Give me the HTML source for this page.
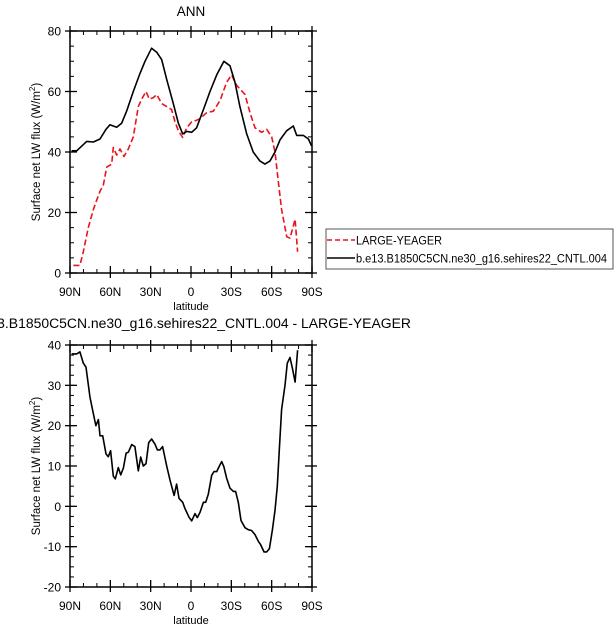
<!DOCTYPE html>
<html><head><meta charset="utf-8"><style>
body{margin:0;background:#fff;}
svg text{font-family:"Liberation Sans",Arial,sans-serif;fill:#000;}
</style></head><body>
<svg width="616" height="631" viewBox="0 0 616 631" xmlns="http://www.w3.org/2000/svg">
<g id="root"></g>
</svg>
<script>
const ctlLat=[88.8,85,77.6,72.6,67.7,63.2,60.3,55.3,51.6,47.9,42.9,37.9,34.2,29.3,25.5,21.8,18.1,13.2,9.4,6.2,3.2,-0.5,-4.2,-9.2,-14.1,-19.1,-24.5,-29,-32.7,-36.4,-41.4,-46.3,-51.3,-55,-58.7,-62.5,-66.2,-71.1,-76.1,-78.6,-83.5,-87.3,-89.7];
const ctlVal=[40.4,40.4,43.5,43.3,44.3,47.5,49,48.2,49.5,53.5,60,66,70,74.3,73,70.5,64,56,49.5,46,46.8,46.5,48,54,60,65.5,70,68.5,63,55,46,40,37,36,37,40,44,47,48.6,45.5,45.5,44.3,42];
const lyLat=[87.5,82.6,80.1,76.4,72.6,70.2,67.7,65.2,62.7,59,57.8,55.3,52.8,49.8,46.6,42.9,39.2,36.7,33.5,31,28,25.5,21.8,18.1,14.4,11.9,9.4,6.2,3.2,-0.5,-4.2,-6.7,-11.6,-16.6,-21.6,-26.5,-30.2,-34,-40.2,-43.9,-47.6,-52.6,-56.3,-60,-62.5,-65,-67.4,-71.2,-73.6,-77.4,-79.3];
const lyVal=[2.5,2.5,7,15,21,24,27,29,35,36,41.5,39,41,38.5,41,45,55,57.5,60,57.5,58,59,56,55,54,50,47,44.8,48,50,50.5,51,53,53.5,57,63,65.5,62,59,53,48,46.5,47.5,45,40,30,21,12,11.5,17.8,7];
const dLat=[88.8,85,82.6,80.1,78.1,75.1,71.4,70.7,68.9,67.7,65.7,63.2,61.5,59.8,57.8,56.3,54.1,52.3,50.3,48.3,46.6,44.1,41.7,39.2,37.4,35.5,33.5,31.5,29.3,26.8,25,23.1,21.1,18.1,15.6,12.6,10.7,8.9,6.2,4.5,1.5,-0.5,-3,-4.7,-6.7,-9.2,-10.9,-12.9,-15.4,-17.1,-19.1,-21.1,-22.8,-24.5,-26.5,-29,-31.5,-33.2,-35.2,-37.2,-40.2,-42.6,-45.1,-47.6,-50.1,-51.8,-54.3,-56.3,-58.3,-60.5,-62.5,-64.2,-65.7,-67.4,-69.9,-71.6,-73.6,-75.6,-77.4,-79.3];
const dVal=[37.8,37.8,38.3,35.5,34.5,27,21,20,21.5,17.5,17.5,13,12.3,13.8,7.5,6.8,9.6,7.8,9.5,13.2,13.4,15.3,14.8,8.8,12.2,10,10.6,15.8,16.7,15.4,14,14,14.8,10,6.5,2.7,5.5,2,1,-0.5,-2.7,-3.6,-1.8,-2.8,-1.5,1,1,3,7.7,8.6,8.6,10,11.1,9.8,7,4.5,3.7,3.7,1,-3.5,-5.3,-5.8,-6,-7,-8.7,-9.5,-11.3,-11.3,-10.5,-6,-1,5,14,24,30,35.5,36.9,34,30.8,38.7];
const xTicks=[90,60,30,0,-30,-60,-90];
const xTickLabels=["90N","60N","30N","0","30S","60S","90S"];
const topYTicks=[0,20,40,60,80];
const botYTicks=[-20,-10,0,10,20,30,40];

const NS="http://www.w3.org/2000/svg";
const root=document.getElementById('root');
function el(tag,attrs,parent,txt){const e=document.createElementNS(NS,tag);for(const k in attrs)e.setAttribute(k,attrs[k]);if(txt!==undefined)e.textContent=txt;(parent||root).appendChild(e);return e;}

function panel(name,top,bot,ymin,ymax,yTicks,minorStep,series){
  const L=70,R=312;
  const g=el('g',{});
  
  
  const xs=lat=>L+(90-lat)/180*(R-L);
  const ys=v=>bot-(v-ymin)/(ymax-ymin)*(bot-top);
  for(let v=ymin;v<=ymax+1e-6;v+=minorStep){
    const y=ys(v);
    el('line',{x1:L,x2:L+4,y1:y,y2:y,stroke:'#000','stroke-width':1},g);
    el('line',{x1:R,x2:R-4,y1:y,y2:y,stroke:'#000','stroke-width':1},g);
  }
  yTicks.forEach(v=>{
    const y=ys(v);
    el('line',{x1:L-5,x2:L+7,y1:y,y2:y,stroke:'#000','stroke-width':1.3},g);
    el('line',{x1:R+5,x2:R-7,y1:y,y2:y,stroke:'#000','stroke-width':1.3},g);
    const t=el('text',{x:L-9,y:y+4.5,'text-anchor':'end','font-size':12},g,String(v));
    
    
  });
  for(let lat=90;lat>=-90;lat-=10){
    const x=xs(lat);
    const major=lat%30===0;
    el('line',{x1:x,x2:x,y1:bot,y2:bot-(major?7:4),stroke:'#000','stroke-width':major?1.3:1},g);
    el('line',{x1:x,x2:x,y1:top,y2:top+(major?7:4),stroke:'#000','stroke-width':major?1.3:1},g);
    if(major){el('line',{x1:x,x2:x,y1:bot,y2:bot+5,stroke:'#000','stroke-width':1.3},g);el('line',{x1:x,x2:x,y1:top,y2:top-5,stroke:'#000','stroke-width':1.3},g);}
  }
  xTicks.forEach((lat,i)=>{
    const t=el('text',{x:xs(lat),y:bot+23,'text-anchor':'middle','font-size':12},g,xTickLabels[i]);
    
    
  });
  const xt=el('text',{x:191,y:bot+37,'text-anchor':'middle','font-size':11},g,'latitude');
  
  
  const cy=(top+bot)/2;
  const yt=el('text',{x:0,y:0,'text-anchor':'middle','font-size':11.5,transform:`translate(40,${cy}) rotate(-90)`},g);
  
  
  yt.innerHTML='Surface net LW flux (W/m<tspan font-size="8" dy="-5">2</tspan><tspan dy="5">)</tspan>';
  series.forEach(s=>{
    const d=s.lat.map((la,i)=>(i?'L':'M')+xs(la).toFixed(1)+','+ys(s.val[i]).toFixed(1)).join(' ');
    const p=el('path',{d:d,fill:'none',stroke:s.color,'stroke-width':1.6,'stroke-dasharray':s.dash||'none','stroke-linejoin':'round'},g);
    
    
  });
  const fr=el('rect',{x:L,y:top,width:R-L,height:bot-top,fill:'none',stroke:'#000','stroke-width':1.5},g);
  
  
}
panel('top-panel',31,273,0,80,topYTicks,5,[
  {lat:lyLat,val:lyVal,color:'#e8141a',dash:'6,3',name:'large-yeager-line'},
  {lat:ctlLat,val:ctlVal,color:'#000',name:'control-line'}]);
panel('bottom-panel',345,587,-20,40,botYTicks,2.5,[
  {lat:dLat,val:dVal,color:'#000',name:'difference-line'}]);

const t1=el('text',{x:191,y:16,'text-anchor':'middle','font-size':13.5},root,'ANN');


const t2=el('text',{x:-30,y:328,'font-size':13.5,textLength:441,lengthAdjust:'spacingAndGlyphs'},root,'b.e13.B1850C5CN.ne30_g16.sehires22_CNTL.004 - LARGE-YEAGER');



const lg=el('g',{});


el('rect',{x:326,y:229,width:287,height:40,fill:'#fff',stroke:'#555','stroke-width':1},lg);
el('line',{x1:327,x2:355,y1:240,y2:240,stroke:'#e8141a','stroke-width':1.5,'stroke-dasharray':'5,3'},lg);
const le1=el('text',{x:356,y:244.5,'font-size':11.5,textLength:86,lengthAdjust:'spacingAndGlyphs'},lg,'LARGE-YEAGER');


el('line',{x1:327,x2:355,y1:258,y2:258,stroke:'#000','stroke-width':1.5},lg);
const le2=el('text',{x:356,y:262.5,'font-size':11.5,textLength:251,lengthAdjust:'spacingAndGlyphs'},lg,'b.e13.B1850C5CN.ne30_g16.sehires22_CNTL.004');


</script>
</body></html>
